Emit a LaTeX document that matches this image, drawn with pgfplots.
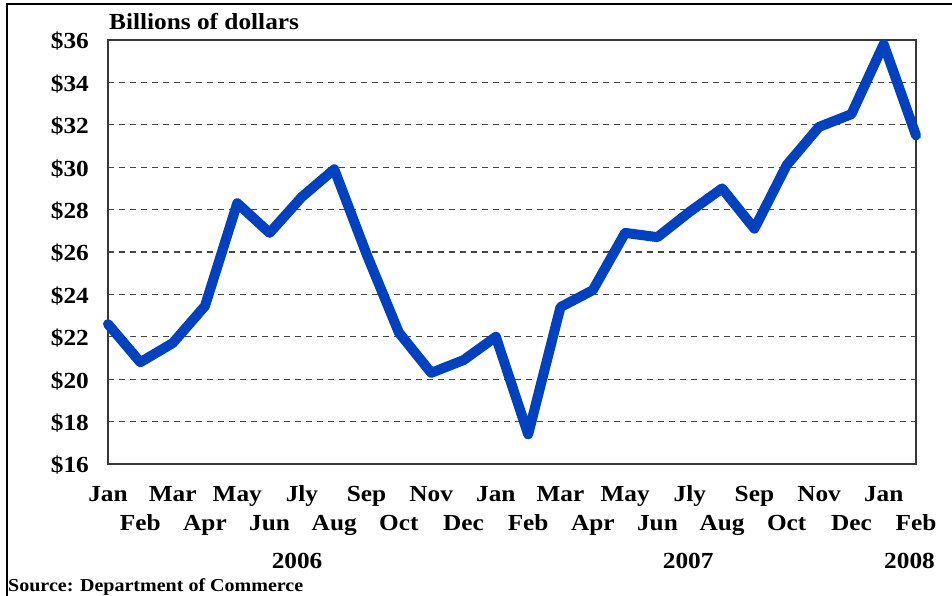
\documentclass[border=0pt]{standalone}
\usepackage{fontspec}
\setmainfont[FakeStretch=1.1]{Liberation Serif}
\usepackage{pgfplots}
\pgfplotsset{compat=1.18}
\definecolor{lineblue}{RGB}{0,65,191}
\definecolor{gridgray}{RGB}{70,70,70}
\definecolor{axisgray}{RGB}{55,55,55}
\begin{document}
\begin{tikzpicture}[x=1pt,y=1pt]
\path[use as bounding box] (0,0) rectangle (952,596);
\draw[line width=1.6pt] (7,-2) -- (7,592) -- (954,592);
\begin{axis}[
  at={(108pt,132pt)}, anchor=south west,
  scale only axis, width=808pt, height=424pt,
  xmin=0, xmax=25, ymin=16, ymax=36,
  xtick={0,2,...,24},
  xticklabels={Jan,Mar,May,Jly,Sep,Nov,Jan,Mar,May,Jly,Sep,Nov,Jan},
  extra x ticks={1,3,...,25},
  extra x tick labels={Feb,Apr,Jun,Aug,Oct,Dec,Feb,Apr,Jun,Aug,Oct,Dec,Feb},
  extra x tick style={xticklabel style={yshift=-29pt}, grid=none},
  ytick={16,18,...,36},
  yticklabels={\$16,\$18,\$20,\$22,\$24,\$26,\$28,\$30,\$32,\$34,\$36},
  ymajorgrids,
  grid style={gridgray, line width=1.1pt, dash pattern=on 6pt off 5pt},
  major tick length=0pt,
  axis line style={axisgray, line width=1.5pt},
  tick label style={font=\fontsize{23}{27}\selectfont\bfseries},
  xticklabel style={anchor=base, inner sep=0pt, yshift=-38pt},
  yticklabel style={anchor=base east, inner sep=0pt, xshift=-19pt, yshift=-9pt},
  clip=false,
]
\addplot[lineblue, line width=10pt, line join=round, line cap=round] coordinates {
(0,22.6) (1,20.8) (2,21.7) (3,23.45) (4,28.3) (5,26.9) (6,28.6) (7,29.9)
(8,25.9) (9,22.2) (10,20.3) (11,20.9) (12,22.0) (13,17.4) (14,23.4) (15,24.2)
(16,26.9) (17,26.7) (18,27.9) (19,29.0) (20,27.1) (21,30.1) (22,31.9) (23,32.5)
(24,35.8) (25,31.5)
};
\node[anchor=base west, inner sep=0pt, xshift=1pt, yshift=10pt, font=\fontsize{23}{27}\selectfont\bfseries] at (rel axis cs:0,1) {Billions of dollars};
\node[anchor=base, inner sep=0pt, yshift=-104pt, font=\fontsize{23}{27}\selectfont\bfseries] at (axis cs:5.85,16) {2006};
\node[anchor=base, inner sep=0pt, yshift=-105pt, font=\fontsize{23}{27}\selectfont\bfseries] at (axis cs:17.95,16) {2007};
\node[anchor=base, inner sep=0pt, yshift=-105pt, font=\fontsize{23}{27}\selectfont\bfseries] at (axis cs:24.8,16) {2008};
\end{axis}
\node[anchor=base west, inner sep=0pt, font=\fontsize{18.2}{20}\selectfont\bfseries] at (8,4) {Source: Department of Commerce};
\end{tikzpicture}
\end{document}
